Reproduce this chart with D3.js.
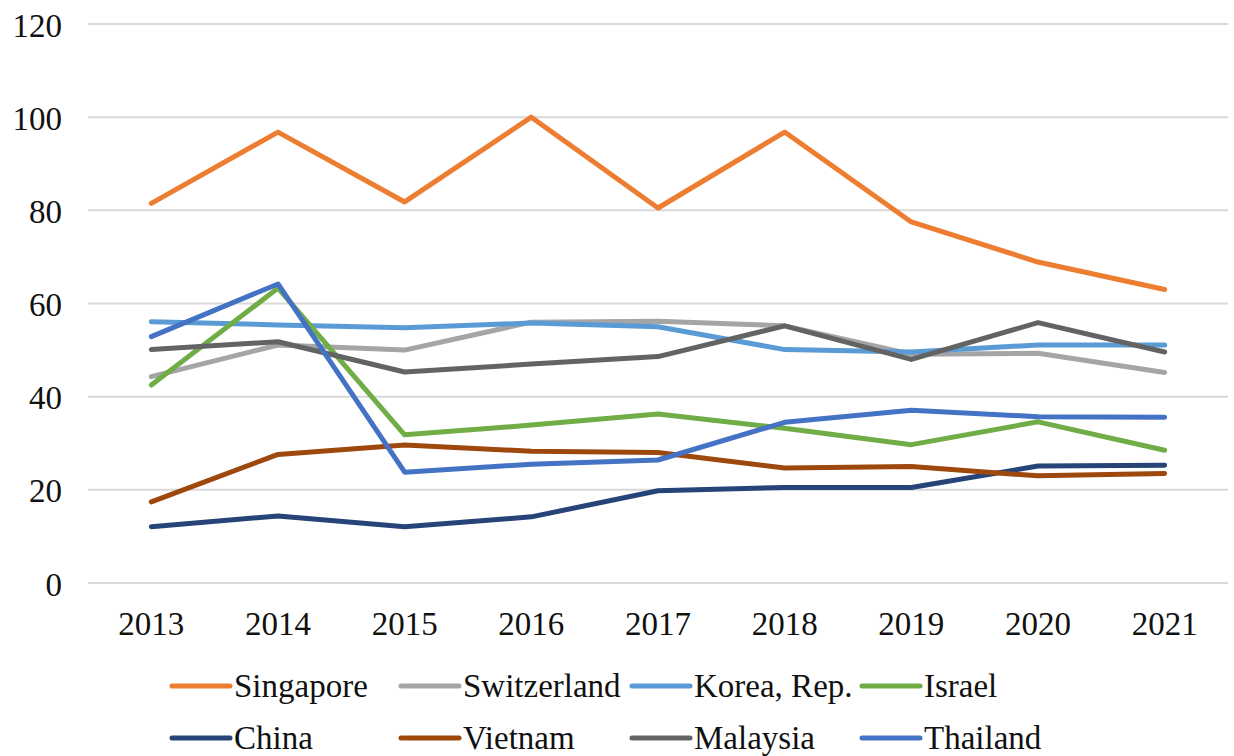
<!DOCTYPE html>
<html>
<head>
<meta charset="utf-8">
<script src="https://cdn.jsdelivr.net/npm/d3@7"></script>
<style>
  html, body { margin: 0; padding: 0; background: #fff; }
  svg { display: block; }
  svg text { font-size: 33px; fill: #111; }
</style>
</head>
<body>
<svg id="chart" width="1234" height="756"></svg>
<script>
const years = ["2013","2014","2015","2016","2017","2018","2019","2020","2021"];
const yTicks = [0, 20, 40, 60, 80, 100, 120];

const singapore   = [81.5, 96.8, 81.8, 100.0, 80.5, 96.8, 77.5, 68.9, 63.0];
const switzerland = [44.3, 51.1, 50.0, 56.0, 56.2, 55.2, 49.1, 49.3, 45.2];
const korea       = [56.1, 55.4, 54.8, 55.8, 55.0, 50.1, 49.6, 51.1, 51.1];
const israel      = [42.5, 63.3, 31.8, 33.9, 36.3, 33.2, 29.7, 34.6, 28.5];
const china       = [12.1, 14.4, 12.1, 14.2, 19.8, 20.5, 20.5, 25.1, 25.3];
const vietnam     = [17.4, 27.6, 29.6, 28.3, 28.0, 24.7, 25.0, 23.0, 23.5];
const malaysia    = [50.1, 51.8, 45.3, 47.0, 48.6, 55.2, 48.0, 55.9, 49.6];
const thailand    = [52.9, 64.2, 23.8, 25.5, 26.4, 34.5, 37.1, 35.7, 35.6];

const seriesNames = ["Singapore","Switzerland","Korea, Rep.","Israel","China","Vietnam","Malaysia","Thailand"];
const seriesValues = [singapore, switzerland, korea, israel, china, vietnam, malaysia, thailand];
const seriesColors = ["#ED7D31","#A5A5A5","#5B9BD5","#70AD47","#264478","#9E480E","#636363","#4472C4"];

const svg = d3.select("#chart");

// pick an installed serif face, if any
function pickFont() {
  const candidates = ["Liberation Serif","Tinos","Times New Roman","DejaVu Serif","Noto Serif","FreeSerif","Nimbus Roman","Nimbus Roman No9 L","Noto Serif CJK SC","Noto Serif CJK JP","Georgia"];
  const probe = svg.append("text").attr("x", -1000).attr("y", -1000).style("font-size", "40px").text("Singapore 2013 Wmil");
  probe.style("font-family", "monospace");
  const base = probe.node().getComputedTextLength();
  let found = null;
  for (const c of candidates) {
    probe.style("font-family", `"${c}", monospace`);
    if (Math.abs(probe.node().getComputedTextLength() - base) > 0.5) { found = c; break; }
  }
  probe.remove();
  return found ? `"${found}", serif` : "serif";
}
const font = pickFont();

const x = d3.scalePoint().domain(years).range([88, 1228]).padding(0.5);
const y = d3.scaleLinear().domain([0, 120]).range([583, 24]);

// gridlines
svg.append("g").selectAll("line").data(yTicks).join("line")
  .attr("x1", 88).attr("x2", 1228)
  .attr("y1", d => y(d)).attr("y2", d => y(d))
  .attr("stroke", "#d9d9d9").attr("stroke-width", 2);

// y labels
svg.append("g").selectAll("text").data(yTicks).join("text")
  .attr("x", 62).attr("y", d => y(d)).attr("dy", "0.38em")
  .attr("text-anchor", "end")
  .style("font-family", font)
  .text(d => d);

// x labels
svg.append("g").selectAll("text").data(years).join("text")
  .attr("x", d => x(d)).attr("y", y(0) + 52)
  .attr("text-anchor", "middle")
  .style("font-family", font)
  .text(d => d);

// lines
const line = d3.line().x((d, i) => x(years[i])).y(d => y(d));
svg.append("g").selectAll("path").data(seriesValues).join("path")
  .attr("d", d => line(d))
  .attr("fill", "none")
  .attr("stroke", (d, i) => seriesColors[i])
  .attr("stroke-width", 5)
  .attr("stroke-linejoin", "round")
  .attr("stroke-linecap", "round");

// legend
const colX = [172, 401, 632, 862];
const rowY = [686, 738];
const leg = svg.append("g");
seriesNames.forEach((name, i) => {
  const cx = colX[i % 4], cy = rowY[Math.floor(i / 4)];
  leg.append("line")
    .attr("x1", cx).attr("x2", cx + 58)
    .attr("y1", cy).attr("y2", cy)
    .attr("stroke", seriesColors[i]).attr("stroke-width", 5)
    .attr("stroke-linecap", "round");
  leg.append("text")
    .attr("x", cx + 62).attr("y", cy + 11)
    .style("font-family", font)
    .text(name);
});
</script>
</body>
</html>
